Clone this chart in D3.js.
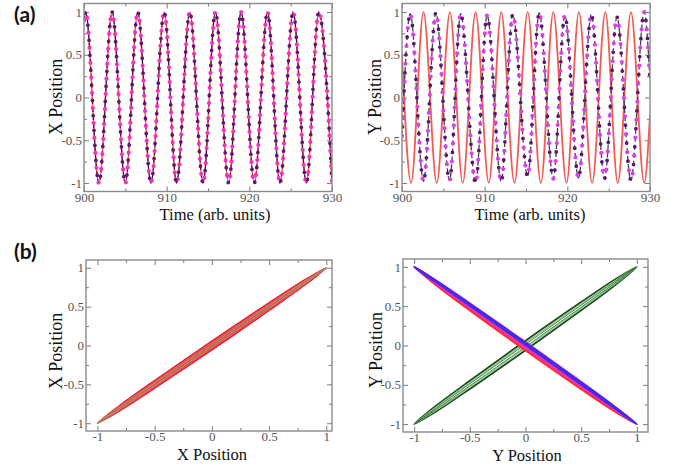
<!DOCTYPE html>
<html><head><meta charset="utf-8">
<script src="https://cdn.jsdelivr.net/npm/d3@7"></script>
<style>html,body{margin:0;padding:0;background:#fff;}svg{display:block;}</style>
</head><body>
<svg id="chart" width="680" height="466"></svg>
<script>
// ---------- DATA ----------
// (a) left: X position vs time — extrema of the oscillation (all runs coincide)
const xPosTimes  = [900, 900.2, 901.8, 903.4, 905.0, 906.5, 908.1, 909.7, 911.2, 912.8, 914.4, 915.9, 917.5, 919.0, 920.6, 922.2, 923.7, 925.3, 926.9, 928.4, 930.0];
const xPosValues = [0.9, 1, -1, 1, -1, 1, -1, 1, -1, 1, -1, 1, -1, 1, -1, 1, -1, 1, -1, 1, -1];
// (a) right: Y position vs time — red run (solid)
const yRedTimes  = [900, 901.1, 902.6, 904.2, 905.8, 907.35, 908.9, 910.5, 912.0, 913.6, 915.2, 916.8, 918.3, 919.9, 921.4, 923.0, 924.6, 926.1, 927.7, 929.3, 930];
const yRedValues = [0.5, -1, 1, -1, 1, -1, 1, -1, 1, -1, 1, -1, 1, -1, 1, -1, 1, -1, 1, -1, -0.2];
// (a) right: Y position vs time — dashed run with dots
const yDashTimes  = [900, 901.0, 902.6, 904.1, 905.75, 907.1, 908.9, 910.3, 912.0, 913.4, 915.2, 916.6, 918.3, 919.7, 921.35, 922.9, 924.5, 926.0, 927.7, 929.3, 930];
const yDashValues = [-0.45, 0.98, -0.98, 0.99, -0.97, 0.98, -1, 0.96, -0.98, 0.97, -0.92, 0.99, -0.95, 0.96, -0.94, 0.97, -0.95, 0.94, -0.97, 1, 0.2];

// (b) phase-space loops: shared abscissa of loop vertices
const loopXs = [-1, -0.8, -0.5, 0, 0.5, 0.8, 1, 0.8, 0.5, 0, -0.5, -0.8];
// (b) left: X vs X
const xxRedYs    = [-1, -0.767, -0.452, 0.055, 0.548, 0.833, 1, 0.767, 0.452, -0.055, -0.548, -0.833];
const xxOrangeYs = [-1, -0.776, -0.465, 0.04, 0.535, 0.824, 1, 0.776, 0.465, -0.04, -0.535, -0.824];
const xxPinkYs   = [-1, -0.79, -0.485, 0.016, 0.515, 0.81, 1, 0.79, 0.485, -0.016, -0.515, -0.81];
const xxGreenYs  = [-1, -0.797, -0.496, 0.004, 0.504, 0.803, 1, 0.797, 0.496, -0.004, -0.504, -0.803];
// (b) right: Y vs Y
const yyGreenOuterYs = [-1, -0.764, -0.448, 0.06, 0.552, 0.836, 1, 0.764, 0.448, -0.06, -0.552, -0.836];
const yyGreenLightYs = [-1, -0.779, -0.47, 0.035, 0.53, 0.821, 1, 0.779, 0.47, -0.035, -0.53, -0.821];
const yyGreenInnerYs = [-1, -0.791, -0.487, 0.015, 0.513, 0.809, 1, 0.791, 0.487, -0.015, -0.513, -0.809];
const yyRedYs     = [1, 0.827, 0.539, 0.045, -0.461, -0.773, -1, -0.839, -0.557, -0.065, 0.443, 0.761];
const yyMagentaYs = [1, 0.818, 0.526, 0.03, -0.474, -0.782, -1, -0.818, -0.526, -0.03, 0.474, 0.782];
const yyBlueYs    = [1, 0.819, 0.528, 0.032, -0.472, -0.781, -1, -0.795, -0.493, 0.008, 0.507, 0.805];

// ticks
const timeMajor = [900, 910, 920, 930];
const timeMinor = [905, 915, 925];
const posMajor = [-1, -0.5, 0, 0.5, 1];
const posMinor = [-0.75, -0.25, 0.25, 0.75];

// ---------- DRAWING ----------
const svg = d3.select("#chart");
const serif = "Liberation Serif, Times New Roman, DejaVu Serif, serif";

function panel(cfg) {
  const x = d3.scaleLinear().domain(cfg.xDomain).range([cfg.left, cfg.right]);
  const y = d3.scaleLinear().domain(cfg.yDomain).range([cfg.bottom, cfg.top]);
  const g = svg.append("g");
  const fmt = d => String(d);
  const tickColor = "#7a7a7a";
  function ax(axisFn, scale, vals, size, labels, transform, pad) {
    const a = axisFn(scale).tickValues(vals).tickSizeInner(size).tickSizeOuter(0).tickPadding(labels ? pad : 0)
      .tickFormat(labels ? fmt : () => "");
    const s = g.append("g").attr("transform", transform).call(a);
    s.attr("font-family", serif).attr("font-size", 13);
    s.select(".domain").remove();
    s.selectAll("line").attr("stroke", tickColor).attr("stroke-width", 1);
    s.selectAll("text").style("font-family", serif).style("font-size", "13px").attr("fill", "#555");
    return s;
  }
  const W = cfg.right - cfg.left, H = cfg.bottom - cfg.top;
  ax(d3.axisBottom, x, cfg.xMajor, -5, true, `translate(0,${cfg.bottom})`, 1);
  ax(d3.axisBottom, x, cfg.xMinor, -3, false, `translate(0,${cfg.bottom})`, 0);
  ax(d3.axisTop, x, cfg.xMajor, -5, false, `translate(0,${cfg.top})`, 0);
  ax(d3.axisTop, x, cfg.xMinor, -3, false, `translate(0,${cfg.top})`, 0);
  ax(d3.axisLeft, y, cfg.yMajor, -5, true, `translate(${cfg.left},0)`, 2);
  ax(d3.axisLeft, y, cfg.yMinor, -3, false, `translate(${cfg.left},0)`, 0);
  ax(d3.axisRight, y, cfg.yMajor, -5, false, `translate(${cfg.right},0)`, 0);
  ax(d3.axisRight, y, cfg.yMinor, -3, false, `translate(${cfg.right},0)`, 0);
  const clipId = "clip" + Math.round(cfg.left) + "_" + Math.round(cfg.top);
  svg.append("clipPath").attr("id", clipId).append("rect")
    .attr("x", cfg.left).attr("y", cfg.top).attr("width", W).attr("height", H);
  const plot = g.append("g").attr("clip-path", `url(#${clipId})`);
  cfg.draw(plot, x, y);
  g.append("rect").attr("x", cfg.left).attr("y", cfg.top).attr("width", W).attr("height", H)
    .attr("fill", "none").attr("stroke", "#8a8a8a").attr("stroke-width", 1.4);
  g.append("text").attr("x", cfg.xTitle[0]).attr("y", cfg.xTitle[1]).attr("text-anchor", "middle")
    .style("font-family", serif).style("font-size", "16.5px").attr("fill", "#111").text(cfg.xLabel);
  g.append("text").attr("transform", `translate(${cfg.yTitle[0]},${cfg.yTitle[1]}) rotate(-90)`)
    .attr("text-anchor", "middle").style("font-family", serif).style("font-size", "18px").attr("fill", "#111").text(cfg.yLabel);
}

function timeSeries(times, values) { return times.map((t, i) => ({ t, v: values[i] })); }
function loop(xs, ys) { return xs.map((xv, i) => ({ a: xv, b: ys[i] })); }

function drawTime(plot, x, y, data, opt) {
  const line = d3.line().x(d => x(d.t)).y(d => y(d.v)).curve(d3.curveMonotoneX);
  if (opt.solid) plot.append("path").datum(data).attr("d", line).attr("fill", "none")
    .attr("stroke", opt.solid).attr("stroke-width", opt.solidW || 1.6);
  if (opt.dash) plot.append("path").datum(data).attr("d", line).attr("fill", "none")
    .attr("stroke", opt.dash).attr("stroke-width", opt.dashW || 1.3).attr("stroke-dasharray", "5,3");
  if (opt.dots) {
    plot.append("path").datum(data).attr("d", line).attr("fill", "none")
      .attr("stroke", opt.dots[0]).attr("stroke-width", 4.2).attr("stroke-linecap", "round")
      .attr("stroke-dasharray", `0,${opt.gap}`);
    plot.append("path").datum(data).attr("d", line).attr("fill", "none")
      .attr("stroke", opt.dots[1]).attr("stroke-width", 3.8).attr("stroke-linecap", "round")
      .attr("stroke-dasharray", `0,${opt.gap}`).attr("stroke-dashoffset", opt.gap / 2);
  }
}

function drawLoop(plot, x, y, data, stroke, width, fill) {
  const line = d3.line().x(d => x(d.a)).y(d => y(d.b)).curve(d3.curveCatmullRomClosed.alpha(0.5));
  plot.append("path").datum(data).attr("d", line).attr("fill", fill || "none")
    .attr("stroke", stroke).attr("stroke-width", width).attr("stroke-linejoin", "round");
}

// (a) left
panel({
  left: 84, right: 332, top: 3.5, bottom: 191.5,
  xDomain: [900, 930], yDomain: [-1.1, 1.1],
  xMajor: timeMajor, xMinor: timeMinor, yMajor: posMajor, yMinor: posMinor,
  xLabel: "Time (arb. units)", yLabel: "X Position",
  xTitle: [215, 219.5], yTitle: [62, 97],
  draw: (p, x, y) => {
    const d = timeSeries(xPosTimes, xPosValues);
    drawTime(p, x, y, d, { solid: "#f0644c", dash: "#222", dashW: 1.1, dots: ["#ff2bc8", "#6a0c86"], gap: 15 });
  }
});
// (a) right
panel({
  left: 402, right: 650, top: 3.5, bottom: 191.5,
  xDomain: [900, 930], yDomain: [-1.1, 1.1],
  xMajor: timeMajor, xMinor: timeMinor, yMajor: posMajor, yMinor: posMinor,
  xLabel: "Time (arb. units)", yLabel: "Y Position",
  xTitle: [530, 219.5], yTitle: [381, 97],
  draw: (p, x, y) => {
    drawTime(p, x, y, timeSeries(yRedTimes, yRedValues), { solid: "#f25a52", solidW: 1.8 });
    drawTime(p, x, y, timeSeries(yDashTimes, yDashValues), { dash: "#344a38", dashW: 1.3, dots: ["#e23cf0", "#62107a"], gap: 18 });
  }
});
// (b) left
panel({
  left: 86, right: 332, top: 260, bottom: 431,
  xDomain: [-1.1, 1.05], yDomain: [-1.1, 1.1],
  xMajor: posMajor, xMinor: posMinor, yMajor: posMajor, yMinor: posMinor,
  xLabel: "X Position", yLabel: "X Position",
  xTitle: [212, 459.5], yTitle: [62, 351],
  draw: (p, x, y) => {
    drawLoop(p, x, y, loop(loopXs, xxRedYs), "#dc1f3c", 1.8, "#e8343c");
    drawLoop(p, x, y, loop(loopXs, xxOrangeYs), "#f0703a", 0.9);
    drawLoop(p, x, y, loop(loopXs, xxPinkYs), "#ee8fc0", 0.8);
    drawLoop(p, x, y, loop(loopXs, xxGreenYs), "#6a9a40", 0.7);
  }
});
// (b) right
panel({
  left: 403, right: 648, top: 259, bottom: 432,
  xDomain: [-1.1, 1.1], yDomain: [-1.1, 1.1],
  xMajor: posMajor, xMinor: posMinor, yMajor: posMajor, yMinor: posMinor,
  xLabel: "Y Position", yLabel: "Y Position",
  xTitle: [527, 460.5], yTitle: [382, 350],
  draw: (p, x, y) => {
    drawLoop(p, x, y, loop(loopXs, yyGreenOuterYs), "#1c481c", 1.8);
    drawLoop(p, x, y, loop(loopXs, yyGreenLightYs), "#86cc86", 1.3);
    drawLoop(p, x, y, loop(loopXs, yyGreenInnerYs), "#2f6a2f", 0.9);
    drawLoop(p, x, y, loop(loopXs, yyRedYs), "#ff2626", 1.6, "#ff4a3a");
    drawLoop(p, x, y, loop(loopXs, yyMagentaYs), "#f020e8", 1.3);
    drawLoop(p, x, y, loop(loopXs, yyBlueYs), "#3a2cff", 2.2);
  }
});

// panel letters
svg.append("text").attr("x", 14).attr("y", 22).style("font-family", "Lato, Open Sans, sans-serif")
  .style("font-weight", 700).style("font-size", "21px").attr("fill", "#111").text("(a)");
svg.append("text").attr("x", 14).attr("y", 259).style("font-family", "Lato, Open Sans, sans-serif")
  .style("font-weight", 700).style("font-size", "21px").attr("fill", "#111").text("(b)");
</script>
</body></html>
